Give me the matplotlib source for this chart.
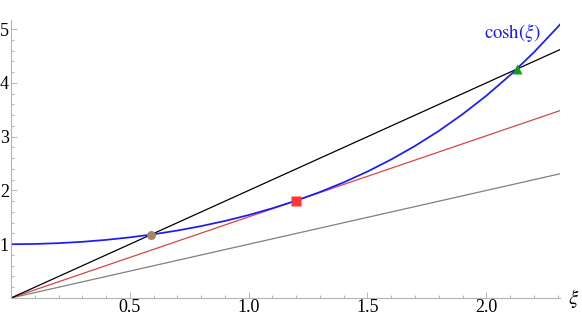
import matplotlib.pyplot as plt
from matplotlib.ticker import MultipleLocator, FixedLocator

plt.rcParams['mathtext.fontset'] = 'stix'
plt.rcParams['font.family'] = ['Liberation Serif', 'DejaVu Serif']

# cosh(xi)
xi = [0.0, 0.1, 0.2, 0.3, 0.4, 0.5, 0.6, 0.7, 0.8, 0.9, 1.0, 1.1, 1.2,
      1.3, 1.4, 1.5, 1.6, 1.7, 1.8, 1.9, 2.0, 2.1, 2.2, 2.3, 2.31]
cosh_vals = [1.000, 1.005, 1.020, 1.045, 1.081, 1.128, 1.185, 1.255, 1.337,
             1.433, 1.543, 1.669, 1.811, 1.971, 2.151, 2.352, 2.577, 2.828,
             3.107, 3.418, 3.762, 4.144, 4.568, 5.037, 5.086]

# straight lines through the origin (start / end)
line_x = [0.0, 2.31]
black_y = [0.0, 4.62]
red_y = [0.0, 3.485]
gray_y = [0.0, 2.31]

# marked points
circle_pt = (0.589, 1.178)
square_pt = (1.200, 1.811)
triangle_pt = (2.127, 4.254)

x_ticks = [0.5, 1.0, 1.5, 2.0]
x_labels = ["0.5", "1.0", "1.5", "2.0"]
y_ticks = [1, 2, 3, 4, 5]

fig = plt.figure(figsize=(5.82, 3.17), dpi=100)
ax = fig.add_axes([11/582, 19/317, 549/582, 278/317])

ax.plot(line_x, gray_y, color="#808080", lw=0.9)
ax.plot(line_x, red_y, color="#d84545", lw=0.9)
ax.plot(line_x, black_y, color="black", lw=0.9)
ax.plot(xi, cosh_vals, color="#1a1aff", lw=1.25)

ax.plot(*circle_pt, "o", color="#a58660", ms=6.5, mec="none")
ax.plot(*square_pt, "s", color="#ff3535", ms=7, mec="none")
ax.plot(*triangle_pt, "^", color="#10a010", ms=7.5, mec="none")

ax.text(1.99, 4.93, r"$\cosh(\xi)$", color="#1a1aff", fontsize=13.5,
        va="center", ha="left")

ax.set_xlim(0, 2.31)
ax.set_ylim(0, 5.17)

for s in ["top", "right"]:
    ax.spines[s].set_visible(False)
for s in ["left", "bottom"]:
    ax.spines[s].set_color("#b5b5b5")
    ax.spines[s].set_linewidth(0.8)

ax.xaxis.set_major_locator(FixedLocator(x_ticks))
ax.set_xticklabels(x_labels)
ax.xaxis.set_minor_locator(MultipleLocator(0.1))
ax.yaxis.set_major_locator(FixedLocator(y_ticks))
ax.yaxis.set_minor_locator(MultipleLocator(0.2))

ax.tick_params(which="both", direction="in", color="#b5b5b5", labelsize=13,
               width=0.7)
ax.tick_params(which="major", length=4)
ax.tick_params(which="minor", length=2)
ax.tick_params(axis="y", pad=1.5)
ax.tick_params(axis="x", pad=1)

ax.text(2.345, 0.0, r"$\xi$", fontsize=15, va="center", ha="left",
        clip_on=False)

fig.savefig("out.png", dpi=100)
